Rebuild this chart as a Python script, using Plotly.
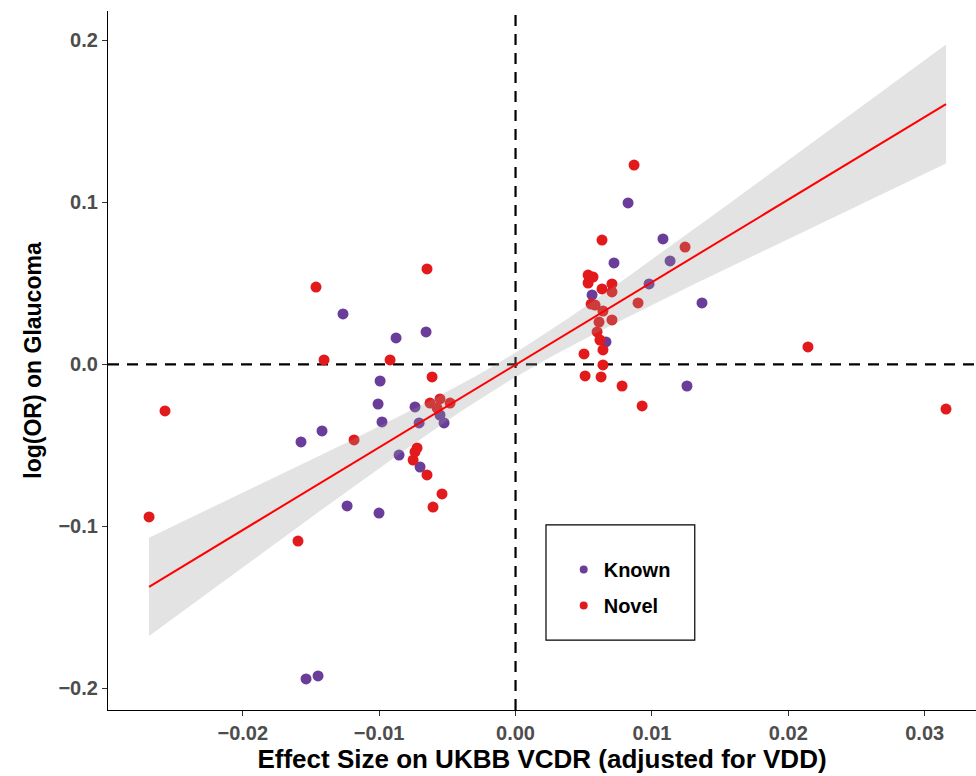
import numpy as np
import plotly.graph_objects as go

# Effect sizes on UKBB VCDR (x) and log(OR) on glaucoma (y)
known_x = [-0.01265, -0.00876, -0.00656, -0.00993, -0.01008, -0.00979, -0.01419,
           -0.01573, -0.00737, -0.00707, -0.00524, -0.00554, -0.00854, -0.00700,
           -0.01235, -0.01001, -0.01536, -0.01448,
           0.00825, 0.01081, 0.00722, 0.01133, 0.00561, 0.00979, 0.01367,
           0.00663, 0.01257]
known_y = [0.0312, 0.0164, 0.0201, -0.0102, -0.0244, -0.0355, -0.0410,
           -0.0478, -0.0262, -0.0361, -0.0361, -0.0312, -0.0559, -0.0633,
           -0.0873, -0.0917, -0.1941, -0.1923,
           0.0997, 0.0775, 0.0627, 0.0639, 0.0429, 0.0497, 0.0380,
           0.0139, -0.0133]

novel_x = [-0.02570, -0.02687, -0.01595, -0.01463, -0.01404, -0.00920, -0.00649,
           -0.00612, -0.01184, -0.00627, -0.00554, -0.00480, -0.00575, -0.00722,
           -0.00737, -0.00751, -0.00649, -0.00539, -0.00605,
           0.00869, 0.00634, 0.01243, 0.00532, 0.00568, 0.00532, 0.00634,
           0.00707, 0.00707, 0.00554, 0.00583, 0.00898, 0.00641, 0.00612,
           0.00707, 0.00598, 0.00619, 0.00641, 0.00502, 0.00641, 0.00510,
           0.00627, 0.00781, 0.00928, 0.02144, 0.03156]
novel_y = [-0.0287, -0.0941, -0.1090, 0.0478, 0.0028, 0.0028, 0.0590,
           -0.0077, -0.0466, -0.0238, -0.0213, -0.0238, -0.0269, -0.0515,
           -0.0540, -0.0590, -0.0682, -0.0799, -0.0880,
           0.1231, 0.0768, 0.0725, 0.0552, 0.0540, 0.0503, 0.0466,
           0.0497, 0.0448, 0.0373, 0.0367, 0.0380, 0.0330, 0.0262,
           0.0275, 0.0201, 0.0151, 0.0090, 0.0065, -0.0003, -0.0071,
           -0.0077, -0.0133, -0.0256, 0.0108, -0.0275]

# Weighted regression of y on x: coefficients and 95% band shape
fit_intercept = -0.0002
fit_slope = 5.10
band_center = -0.0006      # x where the band is narrowest
band_min_half = 0.0075     # half-width of the band at its narrowest
band_spread = 1.118        # growth of the half-width with distance from the center

x_ticks = [-0.02, -0.01, 0.00, 0.01, 0.02, 0.03]
y_ticks = [-0.2, -0.1, 0.0, 0.1, 0.2]

KNOWN_COL = "#6A3D9A"
NOVEL_COL = "#E31A1C"
FONT = "Liberation Sans, Arial, sans-serif"

x_all = np.array(known_x + novel_x)
xs = np.linspace(x_all.min(), x_all.max(), 100)
fit = fit_intercept + fit_slope * xs
half = np.sqrt(band_min_half ** 2 + (band_spread * (xs - band_center)) ** 2)
lower = fit - half
upper = fit + half

fig = go.Figure()

fig.add_trace(go.Scatter(
    x=known_x, y=known_y, mode="markers", showlegend=False,
    marker=dict(color=KNOWN_COL, size=11, line=dict(width=0)),
))
fig.add_trace(go.Scatter(
    x=novel_x, y=novel_y, mode="markers", showlegend=False,
    marker=dict(color=NOVEL_COL, size=11, line=dict(width=0)),
))

# confidence band sits over the points, as in a smoothed layer
fig.add_trace(go.Scatter(
    x=np.concatenate([xs, xs[::-1]]), y=np.concatenate([upper, lower[::-1]]),
    mode="lines", fill="toself", fillcolor="rgba(153,153,153,0.27)",
    line=dict(width=0), hoverinfo="skip", showlegend=False,
))
fig.add_trace(go.Scatter(
    x=xs, y=fit, mode="lines", line=dict(color="#FF0000", width=2),
    hoverinfo="skip", showlegend=False,
))

# legend keys (smaller symbols than the plotted points)
fig.add_trace(go.Scatter(
    x=[None], y=[None], mode="markers", name="Known", legendgroup="k",
    marker=dict(color=KNOWN_COL, size=8),
))
fig.add_trace(go.Scatter(
    x=[None], y=[None], mode="markers", name="Novel", legendgroup="n",
    marker=dict(color=NOVEL_COL, size=8),
))

# reference lines through the origin
fig.add_hline(y=0, line=dict(color="black", width=2.2, dash="11px,8px"), layer="below")
fig.add_vline(x=0, line=dict(color="black", width=2.2, dash="11px,8px"), layer="below")

# legend frame
fig.add_shape(type="rect", xref="paper", yref="paper",
              x0=0.5046, x1=0.676, y0=0.1001, y1=0.2647,
              line=dict(color="black", width=1.2), fillcolor="white", layer="below")

tick_font = dict(family=FONT, size=20, color="#4D4D4D", weight="bold")
title_font = dict(family=FONT, size=26, color="black", weight="bold")

fig.update_xaxes(
    range=[-0.02988, 0.03376], tickvals=x_ticks, tickformat=".2f",
    showgrid=False, zeroline=False, showline=True, linecolor="black", linewidth=1.2,
    ticks="outside", ticklen=5, tickwidth=1.2, tickcolor="#333333",
    tickfont=tick_font,
    title=dict(text="Effect Size on UKBB VCDR (adjusted for VDD)", font=title_font, standoff=3),
)
fig.update_yaxes(
    range=[-0.2133, 0.2182], tickvals=y_ticks, tickformat=".1f",
    showgrid=False, zeroline=False, showline=True, linecolor="black", linewidth=1.2,
    ticks="outside", ticklen=5, tickwidth=1.2, tickcolor="#333333",
    tickfont=tick_font,
    title=dict(text="log(OR) on Glaucoma", font=dict(family=FONT, size=23, color="black", weight="bold"),
               standoff=10),
)

fig.update_layout(
    width=976, height=776,
    margin=dict(l=108, r=0, t=11, b=66),
    paper_bgcolor="white", plot_bgcolor="white",
    font=dict(family=FONT),
    showlegend=True,
    legend=dict(
        x=0.525, y=0.229, xanchor="left", yanchor="top",
        bgcolor="rgba(0,0,0,0)", borderwidth=0,
        font=dict(size=20, color="black", family=FONT, weight="bold"),
        tracegroupgap=7,
    ),
)

fig.write_html("out.html")
